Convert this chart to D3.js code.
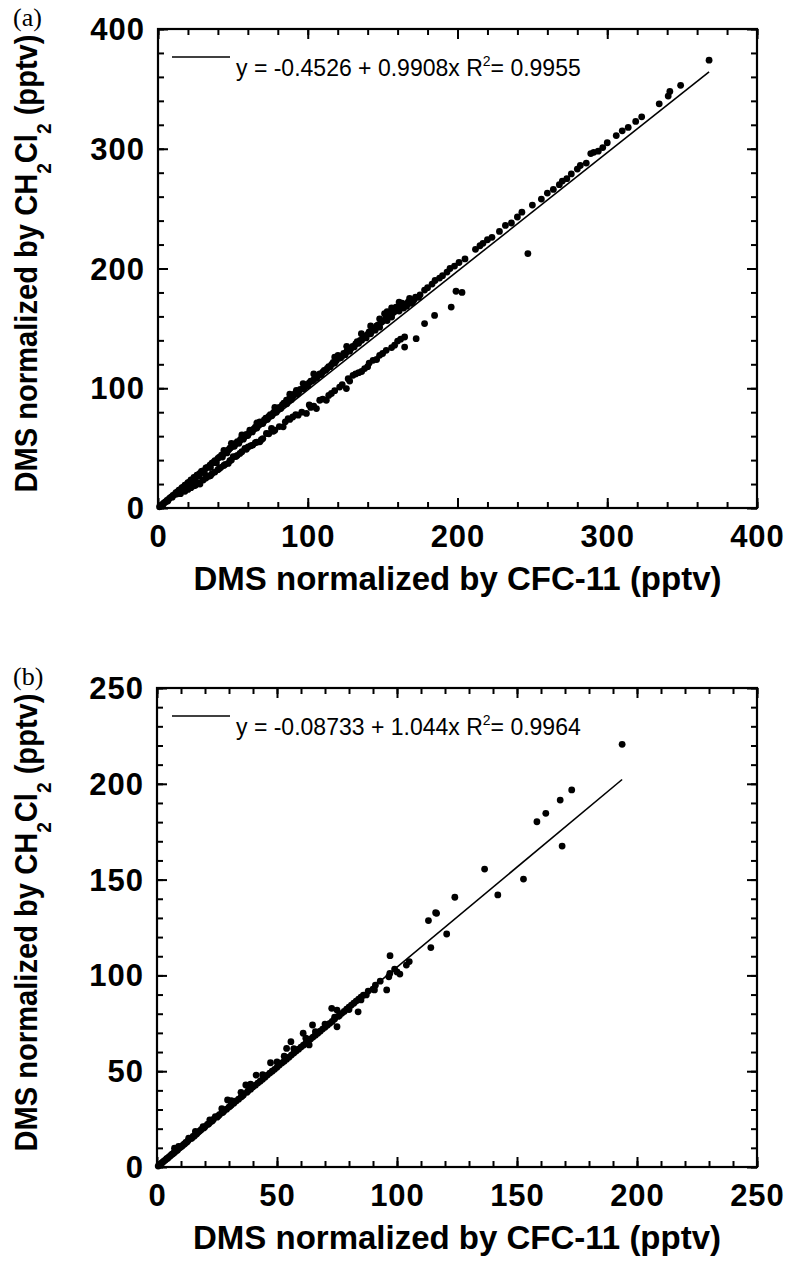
<!DOCTYPE html>
<html>
<head>
<meta charset="utf-8">
<script src="https://cdn.jsdelivr.net/npm/d3@7/dist/d3.min.js"></script>
<style>
  body { margin: 0; background: #fff; }
  svg { display: block; }
</style>
</head>
<body>
<div id="chart"></div>
<script>
// panel (a): DMS normalized by CFC-11 (x) vs by CH2Cl2 (y), pptv
const aUpper = [[1,1],[2,2.2],[3,3],[4,4.3],[5,5],[6,6.4],[7,7.2],[8,8.5],[9,9.3],[10,10.6],[11,11.2],[12,12.8],[13,13.4],[14,14.9],[15,15.3],[16,17],[17,17.4],[18,19],[19,19.5],[20,21.2],[21,21.5],[22,23.4],[23,23.5],[24,25.5],[25,25.6],[26,27.5],[27,27.8],[28,28.9],[29,30.5],[30,31],[32,33.5],[33,34],[34.7,35.8],[36,37.5],[37,38],[38,39.5],[40,41.5],[41,42.5],[42.4,44.2],[44,45.5],[45,46.8],[47,48.5],[48,50],[49,54],[50,52],[52,54],[53,55.5],[55,57],[56,58.5],[58,60],[59,61.5],[61.3,65],[62,64],[64,66],[65,67.5],[67,69],[68,72],[69,71],[71,73.5],[72,75],[74,76.5],[75,78],[77,79.5],[78,81],[80,82.5],[81,84],[83,86],[84,87.5],[85.8,90],[87,89.5],[88,92],[90,93],[91,95],[92.4,98.3],[94,97],[95,99],[96.9,103.9],[98,101],[99,103],[101,104.5],[102,106],[104,107],[105,109],[107,110.5],[108,112],[110,113.5],[111,115],[113,116.5],[114,118],[116,120],[117,121.5],[119,123],[120.2,127.5],[121,125],[123,127],[124,129],[126,130.5],[127,132],[129,133.5],[130,135],[132,137],[133,139],[135.8,145.6],[135,140],[137,142],[138,143.5],[140,145],[141,147],[143,148],[144,150],[146,152],[147,153],[149,155],[150,156],[151.3,162.2],[152,158],[154,160],[155,161.5],[157,163],[159,167.8],[158,164],[160,166],[162,168],[163,171],[165,170],[167,172],[170,172],[168,175],[172,176],[175,178],[178,182],[180,184],[183,187],[185,190],[188,192],[190,194],[193,197],[195,200],[198,202],[201,205],[205,208],[212,216],[215,219],[217,221],[220,224],[223,226],[228,231],[232,236],[236,238],[240,243],[243,247],[250,253],[256,258],[260,263],[264,266],[268,270],[270,273],[273,275],[276,279],[280,283],[282,286],[286,288],[289,296],[291,297],[294,298],[297,301],[300,305],[306,311],[310,315],[314,317.8],[319,322.8],[323,326.7],[334.7,337.5],[340.7,344],[341.8,347.8],[349,353],[368,374],
  [3.5,3.2],[6.5,5.8],[9.5,9],[12.5,11.6],[15.5,14.6],[18.5,17.5],[21.5,20.6],[24.5,23.4],[27.5,26.5],[31,29.5],[35,33.8],[39,37.8],[43,42.5],[46,46],[51,51.5],[54,54],[57,57.5],[60,60.5],[63,63.5],[66,66.8],[70,70.5],[73,74],[76,77],[79,80],[82,83],[86,87],[89,90.5],[93,95],[97,99.5],[100,102],[103,106],[106,108.5],[109,111.5],[112,115],[115,118],[118,121],[122,125.5],[125,128],[128,131],[131,134.5],[134,137.5],[136,140],[139,142],[142,145.5],[145,148.5],[148,151],[153,156.5],[156,159.5],[161,164.5],[164,167],[166,168.5],[169,171],[171,174],[174,176],
  [44,48],[56,61],[66,71],[78,84],[88,95],[104,112],[118,126],[126,135],[142,152],[148,158],[153,164],[156,167],[161,172]];
const aLower = [[15,12],[18,14],[20,15.5],[22,17],[24,18.5],[25,19],[27,21],[28,20],[30.2,23.3],[32,25],[34,26.5],[35,27],[38,30],[40,32],[42,34],[44,35.5],[46.9,37.2],[48,39.5],[50.2,42.8],[52,43],[54.7,45.6],[58,49.7],[60.2,51],[63.3,52.5],[66,55],[68,55.3],[69,57],[72.4,62.2],[75.8,66.4],[78,65],[83.6,67.8],[86.9,74.7],[90,76],[93.6,77.5],[99.1,79],[102,84],[105.8,83],[110,91],[112.4,90],[115.8,95.6],[121.3,101],[125.8,99.7],[128,106],[130.2,110.8],[134,113],[138,116.4],[141,121],[143.6,123.3],[148,127.5],[152.4,131.7],[156,134],[160,139.4],[164.7,134.4],[164.7,142.8],[172.4,141.4],[178,154],[184.7,160.8],[195.8,167.8],[199,181],[203,180],[247,212.5],
  [36,28.5],[41,33],[45,36.5],[49,40],[53,44],[56,47],[59,49],[62,52],[65,54.5],[70,58],[74,62],[77,64],[81,68],[85,72],[88,74],[92,78],[96,80],[101,86],[104,85],[108,90],[114,94],[118,98],[123,103],[127,108],[132,112],[136,114],[140,118],[146,124],[150,129],[158,136],[162,141]];
const aFit = { intercept: -0.4526, slope: 0.9908, r2: "0.9955" };
const aTicks = [0, 100, 200, 300, 400];
const aMinor = [0, 20, 40, 60, 80, 100, 120, 140, 160, 180, 200, 220, 240, 260, 280, 300, 320, 340, 360, 380, 400];

// panel (b)
const bPoints = [[0.5,0.5],[1,1.1],[1.5,1.6],[2,2.1],[2.5,2.6],[3,3.2],[3.5,3.6],[4,4.3],[4.5,4.6],[5,5.3],[5.5,5.7],[6,6.4],[6.5,6.8],[7,7.3],[7.3,9.8],[7.5,7.8],[8,8.5],[8.5,8.8],[9,9.6],[9.5,10],[10,10.6],[10.5,10.9],[11,11.7],[11.5,12],[12,12.8],[12.5,13],[13.2,15],[13,13.8],[14,14.9],[14.5,15],[15,16],[15.5,16.1],[16,17],[16.5,17.2],[17,18],[17.5,18.5],[18,19],[18.5,19.6],[19.2,21],[19.5,20.4],[20,21],[21,22.2],[21.5,22.4],[22,23.2],[23,24],[23.5,24.8],[24.3,26.3],[25,26],[25.5,26.6],[26,27.3],[27,28.3],[27.5,28.6],[28,29.3],[29,30.2],[29.4,35],[30,31.3],[30.5,31.8],[31,32.4],[32,33.3],[33,34.5],[34,35.4],[35,36.5],[35.5,37],[36,37.6],[37,42.8],[37.5,39],[38,39.8],[39,40.6],[40,41.7],[41.3,48],[41,42.7],[42,43.8],[43,44.8],[44,45.8],[45,46.9],[46,48],[47.3,54.4],[47,49],[48,50],[49,51],[50,52],[51,53.2],[52,54.3],[53,55.2],[54,61.9],[54,56.3],[55,57.3],[55.8,65.4],[56,58.4],[57,59.5],[58,60.5],[59,61.5],[60,62.6],[60.9,69.8],[61,63.6],[62,64.6],[63.4,63.7],[63,65.7],[64.8,74.1],[64,66.8],[65,67.8],[66,68.8],[67,69.8],[68,70.9],[69,72],[70,73],[71,74],[72,75],[72.8,82.8],[73,76],[74,77.2],[75,81.9],[75,73.2],[75.5,78.6],[76,79],[77,80.2],[78,81.2],[79,82.4],[80,83.4],[81,84.5],[82,85.5],[83,86.6],[83.8,81],[84,87.6],[85,88.6],[86,89.7],[87.2,89.8],[88,91.8],[90.6,92.4],[91,94.9],[93,97],[95.7,92.4],[96.6,99.3],[97,101],[97.1,110.3],[99,103.3],[100,101.8],[101.2,100.7],[103.9,105.4],[105.1,107.2],[113.1,128.6],[114.1,114.5],[116.1,132.7],[116.5,132.4],[120.7,121.6],[124.1,140.8],[136.5,155.5],[142,142],[152.7,150.3],[158.3,180.2],[162,184.6],[168,191.5],[168.8,167.5],[172.8,196.8],[193.8,220.6],
  [9,10.8],[16,18.6],[22,24.6],[27,30.4],[31,34.6],[35,39],[39,43.2],[44,48.2],[50,54.8],[53,57.8],[57,61.8],[62,67.2],[66,70.6],[70,74.6],[74,78.2],[80,82.2],[85,87.2],[90,92.8]];
const bFit = { intercept: -0.08733, slope: 1.044, r2: "0.9964" };
const bTicks = [0, 50, 100, 150, 200, 250];
const bMinor = [0, 10, 20, 30, 40, 50, 60, 70, 80, 90, 100, 110, 120, 130, 140, 150, 160, 170, 180, 190, 200, 210, 220, 230, 240, 250];

const width = 790, height = 1264;
const sans = "'Liberation Sans', Arial, Helvetica, sans-serif";

const svg = d3.select("#chart").append("svg")
    .attr("width", width)
    .attr("height", height);

function drawPanel(p) {
    const g = svg.append("g");
    const x = d3.scaleLinear().domain([0, p.max]).range([p.left, p.right]);
    const y = d3.scaleLinear().domain([0, p.max]).range([p.bottom, p.top]);

    // inward ticks on all four sides
    const sides = [
        [d3.axisBottom, x, "translate(0," + p.bottom + ")"],
        [d3.axisTop, x, "translate(0," + p.top + ")"],
        [d3.axisLeft, y, "translate(" + p.left + ",0)"],
        [d3.axisRight, y, "translate(" + p.right + ",0)"]
    ];
    sides.forEach(([ax, sc, tr]) => {
        g.append("g").attr("transform", tr)
            .call(ax(sc).tickValues(p.minor).tickSize(-6).tickSizeOuter(0).tickFormat(""));
        g.append("g").attr("transform", tr)
            .call(ax(sc).tickValues(p.ticks).tickSize(-10).tickSizeOuter(0).tickFormat(""));
    });
    g.selectAll(".domain").remove();
    g.selectAll(".tick line").attr("stroke", "#000").attr("stroke-width", 2);

    g.append("rect")
        .attr("x", p.left).attr("y", p.top)
        .attr("width", p.right - p.left).attr("height", p.bottom - p.top)
        .attr("fill", "none").attr("stroke", "#000").attr("stroke-width", 2.2);

    // tick labels
    g.selectAll(".xlab").data(p.ticks).enter().append("text")
        .attr("x", d => x(d) + 0.5)
        .attr("y", p.bottom + 39)
        .attr("text-anchor", "middle")
        .style("font", "bold 31px " + sans)
        .style("letter-spacing", "1px")
        .text(d => d);
    g.selectAll(".ylab").data(p.ticks).enter().append("text")
        .attr("x", p.left - 13)
        .attr("y", d => y(d) + 11)
        .attr("text-anchor", "end")
        .style("font", "bold 31px " + sans)
        .style("letter-spacing", "1px")
        .text(d => d);

    // axis titles
    g.append("text")
        .attr("x", (p.left + p.right) / 2)
        .attr("y", p.bottom + 82)
        .attr("text-anchor", "middle")
        .style("font", "bold 33px " + sans)
        .text("DMS normalized by CFC-11 (pptv)");

    const yt = g.append("text")
        .attr("transform", "translate(37," + ((p.top + p.bottom) / 2 - 5) + ") rotate(-90)")
        .attr("text-anchor", "middle")
        .attr("textLength", 458)
        .attr("lengthAdjust", "spacingAndGlyphs")
        .style("font", "bold 32px " + sans);
    yt.append("tspan").text("DMS normalized by CH");
    yt.append("tspan").attr("dy", 14).style("font-size", "21px").text("2");
    yt.append("tspan").attr("dy", -14).text("Cl");
    yt.append("tspan").attr("dy", 14).style("font-size", "21px").text("2");
    yt.append("tspan").attr("dy", -14).text(" (pptv)");

    // panel letter
    g.append("text")
        .attr("x", 13).attr("y", p.top - 3)
        .style("font", "26px 'Liberation Serif', 'Times New Roman', serif")
        .text(p.letter);

    // points
    g.selectAll("circle").data(p.points).enter().append("circle")
        .attr("cx", d => x(d[0]))
        .attr("cy", d => y(d[1]))
        .attr("r", 3.4)
        .attr("fill", "#000");

    // regression line
    const xMax = d3.max(p.points, d => d[0]);
    const line = d3.line().x(d => x(d)).y(d => y(p.fit.intercept + p.fit.slope * d));
    g.append("path")
        .attr("d", line([0, xMax]))
        .attr("fill", "none").attr("stroke", "#000").attr("stroke-width", 1.6);

    // legend
    g.append("line")
        .attr("x1", 172).attr("x2", 230)
        .attr("y1", p.top + 28).attr("y2", p.top + 28)
        .attr("stroke", "#000").attr("stroke-width", 1.5);
    const lt = g.append("text")
        .attr("x", 236).attr("y", p.top + 47)
        .style("font", "23px " + sans);
    lt.append("tspan").text("y = " + p.fit.intercept + " + " + p.fit.slope + "x R");
    lt.append("tspan").attr("dy", -10).style("font-size", "14px").text("2");
    lt.append("tspan").attr("dy", 10).text("= " + p.fit.r2);
}

drawPanel({ letter: "(a)", left: 158, right: 757, top: 29, bottom: 508, max: 400,
    ticks: aTicks, minor: aMinor, points: aUpper.concat(aLower), fit: aFit });
drawPanel({ letter: "(b)", left: 157, right: 757, top: 688, bottom: 1167, max: 250,
    ticks: bTicks, minor: bMinor, points: bPoints, fit: bFit });
</script>
</body>
</html>
